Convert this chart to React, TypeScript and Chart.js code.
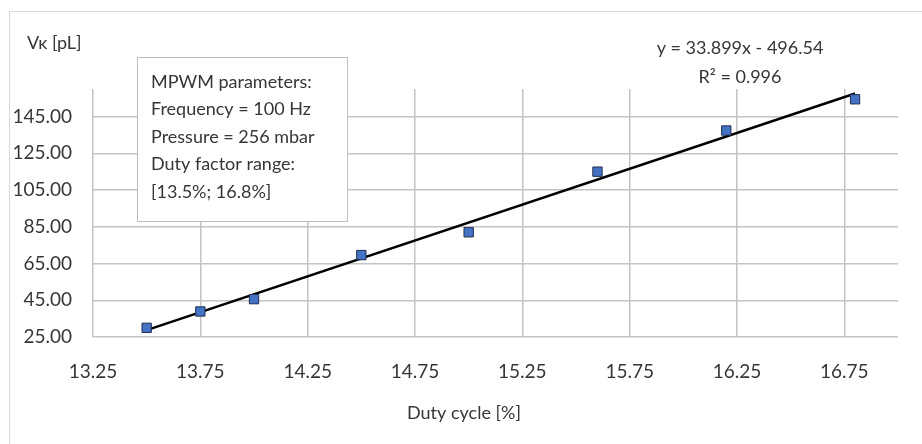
import React, { useEffect, useRef } from "react";
import { Chart, registerables } from "chart.js";

Chart.register(...registerables);

const dutyCycle = [13.5, 13.75, 14.0, 14.5, 15.0, 15.6, 16.2, 16.8];
const volume = [30.0, 38.9, 45.6, 69.6, 82.0, 115.0, 137.4, 154.4];

const xTickValues = [13.25, 13.75, 14.25, 14.75, 15.25, 15.75, 16.25, 16.75];
const yTickValues = [25, 45, 65, 85, 105, 125, 145];
const xRange = [13.25, 17.0];
const yRange = [25, 160];

const xTitle = "Duty cycle [%]";
const yTitle = "Vĸ [pL]";
const boxLines = [
  "MPWM parameters:",
  "Frequency = 100 Hz",
  "Pressure = 256 mbar",
  "Duty factor range:",
  "[13.5%; 16.8%]",
];
const equationLines = ["y = 33.899x - 496.54", "R² = 0.996"];

const FONT = "Lato, 'Open Sans', sans-serif";
const TEXT = "#363636";

function fitLine(xs: number[], ys: number[]) {
  const n = xs.length;
  const mx = xs.reduce((a, b) => a + b, 0) / n;
  const my = ys.reduce((a, b) => a + b, 0) / n;
  let sxy = 0;
  let sxx = 0;
  for (let i = 0; i < n; i++) {
    sxy += (xs[i] - mx) * (ys[i] - my);
    sxx += (xs[i] - mx) * (xs[i] - mx);
  }
  const slope = sxy / sxx;
  const intercept = my - slope * mx;
  const x0 = Math.min(...xs);
  const x1 = Math.max(...xs);
  return [
    { x: x0, y: slope * x0 + intercept },
    { x: x1, y: slope * x1 + intercept },
  ];
}

const decorPlugin = {
  id: "decor",
  beforeDraw(chart: any) {
    const ctx = chart.ctx;
    ctx.save();
    ctx.fillStyle = "#ffffff";
    ctx.fillRect(0, 0, chart.width, chart.height);
    ctx.strokeStyle = "#d9d9d9";
    ctx.lineWidth = 1;
    ctx.strokeRect(9.5, 11.5, chart.width + 20, chart.height + 20);
    ctx.restore();
  },
  afterDraw(chart: any) {
    const ctx = chart.ctx;
    ctx.save();
    ctx.fillStyle = TEXT;
    ctx.textBaseline = "middle";
    // y title
    ctx.font = `18px ${FONT}`;
    ctx.textAlign = "left";
    ctx.fillText(yTitle, 27, 43);
    // x title
    ctx.textAlign = "center";
    ctx.fillText(xTitle, 464, 413);
    // equation
    ctx.fillText(equationLines[0], 740, 48);
    ctx.fillText(equationLines[1], 740, 77);
    // text box
    ctx.fillStyle = "#ffffff";
    ctx.fillRect(137, 57, 210, 164);
    ctx.strokeStyle = "#bfbfbf";
    ctx.lineWidth = 1;
    ctx.strokeRect(137.5, 57.5, 210, 164);
    ctx.fillStyle = TEXT;
    ctx.textAlign = "left";
    boxLines.forEach((line, i) => {
      ctx.fillText(line, 151, 82 + i * 27.5);
    });
    ctx.restore();
  },
};

export default function App() {
  const ref = useRef<HTMLCanvasElement | null>(null);
  useEffect(() => {
    document.body.style.margin = "0";
    document.body.style.overflow = "hidden";
    const canvas = ref.current;
    if (!canvas) return;
    const trend = fitLine(dutyCycle, volume);
    const chart = new Chart(canvas, {
      type: "scatter",
      data: {
        datasets: [
          {
            type: "line",
            label: "Trend",
            data: trend,
            borderColor: "#000000",
            borderWidth: 2.5,
            pointRadius: 0,
            fill: false,
            order: 2,
          } as any,
          {
            label: "Vk",
            data: dutyCycle.map((x, i) => ({ x, y: volume[i] })),
            pointStyle: "rect",
            pointRadius: 6.6,
            backgroundColor: "#4472c4",
            borderColor: "#1f2d50",
            borderWidth: 1,
            order: 1,
          },
        ],
      },
      options: {
        animation: false,
        responsive: false,
        layout: { padding: { left: 0, top: 89, right: 24, bottom: 0 } },
        plugins: {
          legend: { display: false },
          tooltip: { enabled: false },
        },
        scales: {
          x: {
            type: "linear",
            min: xRange[0],
            max: xRange[1],
            afterBuildTicks: (s: any) => {
              s.ticks = xTickValues.map((v) => ({ value: v }));
            },
            afterFit: (s: any) => {
              s.height = 107;
            },
            grid: { color: "#c4c4c4", lineWidth: 1.5, drawTicks: false },
            border: { display: false },
            ticks: {
              padding: 23,
              color: TEXT,
              font: { family: FONT, size: 19 },
              maxRotation: 0,
              autoSkip: false,
              callback: (v: any) => Number(v).toFixed(2),
            },
          },
          y: {
            type: "linear",
            min: yRange[0],
            max: yRange[1],
            afterBuildTicks: (s: any) => {
              s.ticks = yTickValues.map((v) => ({ value: v }));
            },
            afterFit: (s: any) => {
              s.width = 93;
            },
            grid: { color: "#c4c4c4", lineWidth: 1.5, drawTicks: false },
            border: { display: false },
            ticks: {
              padding: 21,
              color: TEXT,
              font: { family: FONT, size: 19 },
              autoSkip: false,
              callback: (v: any) => Number(v).toFixed(2),
            },
          },
        },
      },
      plugins: [decorPlugin],
    });
    return () => chart.destroy();
  }, []);
  return (
    <div style={{ width: 922, height: 444 }}>
      <canvas ref={ref} width={922} height={444} style={{ display: "block" }} />
    </div>
  );
}
